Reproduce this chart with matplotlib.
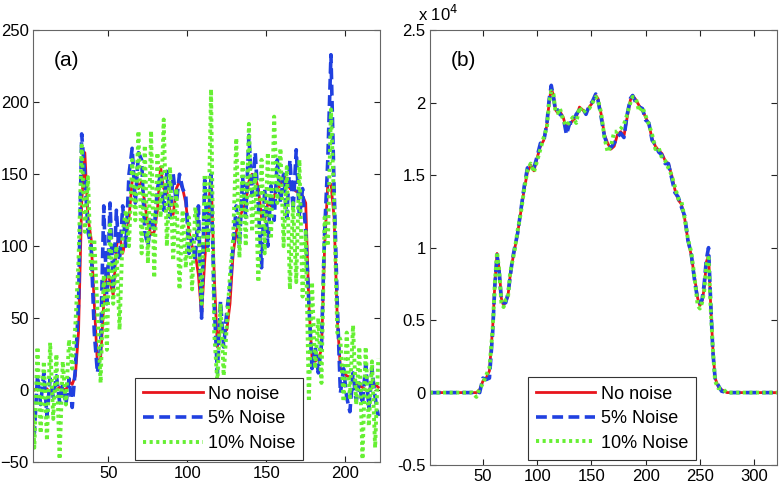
import numpy as np
import matplotlib.pyplot as plt

plt.rcParams['font.family'] = ['Liberation Sans', 'DejaVu Sans']

# panel (a)
xa = np.arange(1, 222, 2)
a_clean = [2, 0, 2, 1, 0, 1, -2, 1, 0, 2, 1, 0, 6, 4, 10, 40, 130, 165, 120, 105,
           60, 18, 22, 60, 85, 75, 66, 100, 108, 95, 105, 120, 145, 150, 140, 145, 130, 115, 108, 110,
           125, 155, 140, 138, 125, 122, 140, 145, 140, 130, 110, 100, 95, 80, 52, 90, 120, 150, 80, 30,
           45, 40, 42, 60, 95, 110, 120, 125, 130, 145, 150, 148, 140, 120, 118, 130, 128, 135, 140, 142,
           150, 145, 140, 140, 138, 138, 135, 130, 60, 22, 20, 22, 28, 100, 143, 143, 120, 50, 15, 12,
           10, 9, 8, 5, 3, 2, 0, 0, 2, 4, 2]
a_n5 = [-5, -30, 10, -10, 12, -18, 8, -5, 10, -8, 4, -10, 8, -12, 15, 60, 178, 150, 110, 100,
        40, 12, 30, 128, 60, 130, 70, 125, 90, 128, 100, 150, 168, 130, 165, 160, 110, 100, 120, 112,
        140, 150, 125, 152, 120, 150, 130, 150, 140, 135, 95, 105, 90, 128, 50, 146, 100, 150, 60, 12,
        62, 30, 55, 72, 100, 128, 100, 148, 120, 177, 135, 165, 128, 85, 140, 100, 142, 118, 160, 130,
        150, 120, 160, 125, 167, 120, 140, 110, 60, 15, 30, 12, 32, 110, 160, 233, 140, 60, -2, 15,
        -5, -15, 12, -8, 5, -10, 18, -12, 15, -5, -18]
a_n10 = [8, -40, 30, -30, 20, -35, 33, -20, 25, -48, 20, -10, 35, 15, 45, 90, 170, 110, 148, 80,
         105, 55, 5, 80, 28, 115, 60, 100, 42, 110, 125, 100, 160, 118, 180, 95, 170, 88, 180, 78,
         165, 120, 188, 100, 155, 90, 140, 70, 125, 85, 120, 70, 127, 110, 60, 150, 95, 209, 40, 5,
         60, 10, 45, 80, 105, 175, 92, 160, 100, 185, 110, 150, 75, 160, 95, 165, 105, 190, 130, 168,
         100, 155, 70, 130, 75, 160, 65, 110, -8, 75, 15, 50, 5, 120, 100, 195, 130, 40, 35, -8,
         40, -5, 45, -10, 30, -48, 30, -25, 20, -40, 22]

# panel (b), values in units of 1e4
xb = [1, 10, 20, 30, 40, 44, 47, 50, 53, 56, 59, 61, 63, 65, 67, 69, 71, 73, 75, 77,
      79, 82, 85, 88, 91, 94, 97, 100, 103, 106, 109, 111, 113, 115, 117, 119, 121, 124, 127, 130,
      133, 136, 139, 142, 145, 148, 151, 154, 156, 159, 162, 165, 168, 171, 174, 177, 180, 183, 186, 188,
      191, 194, 197, 200, 203, 206, 209, 212, 215, 218, 221, 224, 227, 230, 233, 236, 239, 242, 245, 248,
      250, 252, 254, 256, 258, 260, 262, 264, 267, 270, 275, 280, 290, 300, 310, 321]
b_clean = [0, 0, 0, 0, 0, 0.0, 0.02, 0.08, 0.10, 0.15, 0.45, 0.75, 0.96, 0.85, 0.65, 0.6, 0.63, 0.66, 0.8, 0.9,
           0.98, 1.1, 1.25, 1.4, 1.52, 1.57, 1.53, 1.62, 1.7, 1.74, 1.85, 2.0, 2.1, 2.05, 1.95, 1.93, 1.94, 1.9, 1.82, 1.85,
           1.88, 1.9, 1.97, 1.95, 1.93, 1.97, 2.0, 2.05, 2.03, 1.92, 1.78, 1.72, 1.68, 1.7, 1.78, 1.8, 1.77, 1.9, 2.02, 2.05,
           2.02, 1.98, 1.95, 1.9, 1.85, 1.75, 1.7, 1.67, 1.65, 1.6, 1.58, 1.5, 1.4, 1.33, 1.3, 1.2, 1.05, 0.95, 0.8, 0.65,
           0.6, 0.63, 0.72, 0.9, 0.95, 0.6, 0.3, 0.1, 0.04, 0.02, 0.0, 0, 0, 0, 0, 0]
b_n5 = [0, 0, 0, 0, 0, 0.01, 0.0, 0.1, 0.09, 0.1, 0.42, 0.74, 0.95, 0.83, 0.64, 0.62, 0.62, 0.68, 0.79, 0.91,
        0.99, 1.1, 1.26, 1.42, 1.55, 1.56, 1.55, 1.63, 1.72, 1.73, 1.86, 2.02, 2.12, 2.04, 1.94, 1.95, 1.92, 1.9, 1.78, 1.86,
        1.86, 1.92, 1.95, 1.96, 1.92, 1.98, 2.01, 2.06, 2.02, 1.9, 1.77, 1.7, 1.69, 1.72, 1.76, 1.79, 1.76, 1.92, 2.03, 2.05,
        2.0, 1.97, 1.96, 1.88, 1.86, 1.74, 1.71, 1.66, 1.64, 1.58, 1.58, 1.48, 1.38, 1.35, 1.28, 1.22, 1.05, 0.96, 0.78, 0.64,
        0.62, 0.64, 0.75, 0.92, 1.0, 0.62, 0.28, 0.1, 0.05, 0.01, 0.0, 0, 0, 0, 0, 0]
b_n10 = [0, 0, 0, 0, 0, -0.03, 0.03, 0.06, 0.12, 0.17, 0.44, 0.76, 0.97, 0.84, 0.62, 0.59, 0.64, 0.65, 0.82, 0.9,
         0.97, 1.12, 1.24, 1.4, 1.53, 1.58, 1.52, 1.6, 1.68, 1.76, 1.83, 2.0, 2.08, 2.06, 1.93, 1.93, 1.96, 1.88, 1.84, 1.87,
         1.9, 1.86, 1.97, 1.93, 1.95, 1.96, 2.0, 2.04, 2.02, 1.93, 1.76, 1.66, 1.7, 1.8, 1.8, 1.82, 1.85, 1.92, 2.0, 2.04,
         2.03, 1.94, 1.97, 1.91, 1.85, 1.78, 1.68, 1.69, 1.62, 1.6, 1.55, 1.5, 1.42, 1.34, 1.32, 1.2, 1.06, 0.97, 0.8, 0.6,
         0.58, 0.62, 0.7, 0.88, 0.93, 0.58, 0.3, 0.08, 0.03, 0.03, 0.0, 0, 0, 0, 0, 0]

labels = ["No noise", "5% Noise", "10% Noise"]
colors = ["#e8141c", "#2040e0", "#66f033"]

a_yticks = [-50, 0, 50, 100, 150, 200, 250]
b_yticks = [-0.5, 0, 0.5, 1, 1.5, 2, 2.5]
b_ylabels = ["-0.5", "0", "0.5", "1", "1.5", "2", "2.5"]

fig = plt.figure(figsize=(7.8, 4.88), dpi=100)
ax1 = fig.add_axes([0.042, 0.053, 0.445, 0.885])
ax2 = fig.add_axes([0.551, 0.047, 0.445, 0.891])


def draw(ax, x, ys):
    ax.plot(x, ys[0], color=colors[0], lw=2, ls="-", label=labels[0])
    ax.plot(x, ys[1], color=colors[1], lw=2.6, ls=(0, (3, 1.5)), label=labels[1])
    ax.plot(x, ys[2], color=colors[2], lw=2.8, ls=(0, (0.8, 0.9)), label=labels[2])
    for s in ax.spines.values():
        s.set_color("#666666")
        s.set_linewidth(0.8)
    ax.tick_params(direction="in", top=True, right=True, length=4, labelsize=12,
                   color="#222222", pad=3)
    leg = ax.legend(loc="lower left", fontsize=13, fancybox=False, framealpha=1,
                    edgecolor="#333333", handlelength=3.3, handletextpad=0.3,
                    borderpad=0.45, labelspacing=0.42, borderaxespad=0)
    leg.get_frame().set_linewidth(0.8)
    return leg


leg1 = draw(ax1, xa, [a_clean, a_n5, a_n10])
leg1.set_bbox_to_anchor((0.294, 0.005), transform=ax1.transAxes)
ax1.set_xlim(2, 222)
ax1.set_ylim(-50, 250)
ax1.set_xticks([50, 100, 150, 200])
ax1.set_yticks(a_yticks)
ax1.text(0.06, 0.93, "(a)", transform=ax1.transAxes, fontsize=15, va="center")

leg2 = draw(ax2, xb, [b_clean, b_n5, b_n10])
leg2.set_bbox_to_anchor((0.282, 0.012), transform=ax2.transAxes)
ax2.set_xlim(1, 321)
ax2.set_ylim(-0.5, 2.5)
ax2.set_xticks([50, 100, 150, 200, 250, 300])
ax2.set_yticks(b_yticks)
ax2.set_yticklabels(b_ylabels)
ax2.text(0.06, 0.93, "(b)", transform=ax2.transAxes, fontsize=15, va="center")
ax2.text(-0.035, 1.015, "x 10$^{4}$", transform=ax2.transAxes, fontsize=12, va="bottom")

fig.savefig("out.png", dpi=100)
